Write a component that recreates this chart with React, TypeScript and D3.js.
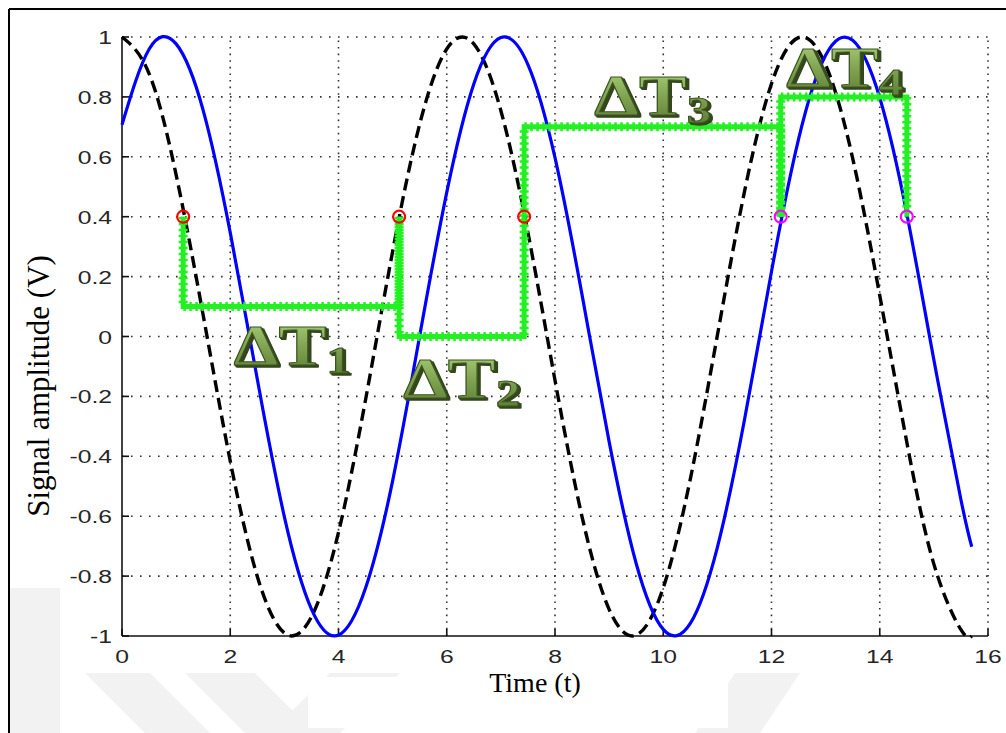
import React from "react";
import * as d3 from "d3";

// Sampled signal values (t in steps of 0.5, last sample at 15.7)
const T_SAMPLES = [0, 0.5, 1, 1.5, 2, 2.5, 3, 3.5, 4, 4.5, 5, 5.5, 6, 6.5, 7, 7.5, 8, 8.5, 9, 9.5, 10, 10.5, 11, 11.5, 12, 12.5, 13, 13.5, 14, 14.5, 15, 15.5, 15.7];
const BLUE_SIGNAL = [0.707, 0.959, 0.977, 0.755, 0.347, -0.143, -0.602, -0.91, -0.997, -0.84, -0.482, 0.002, 0.481, 0.843, 0.998, 0.908, 0.597, 0.139, -0.351, -0.758, -0.978, -0.958, -0.704, -0.279, 0.217, 0.659, 0.939, 0.989, 0.797, 0.41, -0.078, -0.545, -0.702];
const REF_SIGNAL = [1, 0.878, 0.54, 0.071, -0.416, -0.801, -0.99, -0.936, -0.654, -0.211, 0.284, 0.709, 0.96, 0.977, 0.754, 0.347, -0.146, -0.602, -0.911, -0.997, -0.839, -0.476, 0.004, 0.483, 0.844, 0.998, 0.907, 0.595, 0.137, -0.353, -0.76, -0.979, -1.0];

// Threshold crossings (level 0.4) and the interval brackets between them
const CROSS_T = [1.13, 5.12, 7.43, 12.17, 14.5];
const CROSS_LEVEL = 0.4;
const CROSS_COLORS = ["#ff0000", "#ff0000", "#ff0000", "#ff00ff", "#ff00ff"];
const BRACKET_LEVELS = [0.1, 0.0, 0.7, 0.8];

// Interval labels and their anchor points (t, amplitude)
const DELTA_NAMES = ["1", "2", "3", "4"];
const DELTA_T = [2.06, 5.19, 8.72, 12.27];
const DELTA_Y = [-0.095, -0.205, 0.74, 0.833];

const X_TICKS = [0, 2, 4, 6, 8, 10, 12, 14, 16];
const Y_TICKS = [-1, -0.8, -0.6, -0.4, -0.2, 0, 0.2, 0.4, 0.6, 0.8, 1];

const W = 1006;
const H = 733;
const M = { left: 122, right: 988, top: 37, bottom: 636 };

export default function App() {
  const x = d3.scaleLinear().domain([0, 16]).range([M.left, M.right]);
  const y = d3.scaleLinear().domain([-1, 1]).range([M.bottom, M.top]);

  const curve = d3
    .line<[number, number]>()
    .x((d) => x(d[0]))
    .y((d) => y(d[1]))
    .curve(d3.curveNatural);

  const bluePath = curve(T_SAMPLES.map((t, i) => [t, BLUE_SIGNAL[i]]))!;
  const refPath = curve(T_SAMPLES.map((t, i) => [t, REF_SIGNAL[i]]))!;

  const step = d3
    .line<[number, number]>()
    .x((d) => x(d[0]))
    .y((d) => y(d[1]));

  const brackets = BRACKET_LEVELS.map((lvl, i) =>
    step([
      [CROSS_T[i], CROSS_LEVEL],
      [CROSS_T[i], lvl],
      [CROSS_T[i + 1], lvl],
      [CROSS_T[i + 1], CROSS_LEVEL],
    ])!
  );

  const tickFont = "'Liberation Sans', Arial, sans-serif";
  const serif = "'Liberation Serif', 'Times New Roman', serif";

  return (
    <svg
      width={W}
      height={H}
      style={{ position: "absolute", left: 0, top: 0, background: "#fff" }}
      xmlns="http://www.w3.org/2000/svg"
    >
      <defs>
        <linearGradient id="wordart" x1="0" y1="0" x2="0" y2="1">
          <stop offset="0" stopColor="#aed47c" />
          <stop offset="0.45" stopColor="#82a654" />
          <stop offset="1" stopColor="#56752f" />
        </linearGradient>
        {/* solid extrusion behind the lettering */}
        <filter id="extrude" x="-10%" y="-15%" width="130%" height="150%">
          <feOffset in="SourceAlpha" dx="0.8" dy="0.8" result="o1" />
          <feOffset in="SourceAlpha" dx="1.6" dy="1.6" result="o2" />
          <feOffset in="SourceAlpha" dx="2.4" dy="2.4" result="o3" />
          <feMerge result="ext">
            <feMergeNode in="o1" />
            <feMergeNode in="o2" />
            <feMergeNode in="o3" />
          </feMerge>
          <feFlood floodColor="#33461d" />
          <feComposite in2="ext" operator="in" result="shade" />
          <feMerge>
            <feMergeNode in="shade" />
            <feMergeNode in="SourceGraphic" />
          </feMerge>
        </filter>
      </defs>

      {/* faint background emblem */}
      <g fill="#f2f2f2">
        <polygon points="10,588 60,588 60,733 10,733" />
        <polygon points="85,673 150,673 210,733 145,733" />
        <polygon points="185,673 255,673 315,733 245,733" />
        <polygon points="330,673 400,673 340,733 270,733" />
        <polygon points="735,673 800,673 760,733 695,733" />
      </g>
      <rect x={60} y={10} width={W - 60} height={663} fill="#fff" />
      <rect x={308} y={677} width={420} height={51} fill="#fff" />

      {/* outer frame */}
      <line x1={9} y1={9} x2={W} y2={9} stroke="#000" strokeWidth={2} />
      <line x1={9} y1={9} x2={9} y2={H} stroke="#000" strokeWidth={2} />

      {/* dotted grid */}
      <g stroke="#333" strokeWidth={1.6}>
        {X_TICKS.filter((t) => t > 0).map((t) => (
          <line key={"gx" + t} x1={x(t)} x2={x(t)} y1={M.bottom} y2={M.top} strokeDasharray="1.6 5" />
        ))}
        {Y_TICKS.filter((t) => t > -1).map((t) => (
          <line key={"gy" + t} x1={M.left} x2={M.right} y1={y(t)} y2={y(t)} strokeDasharray="1.6 7.4" />
        ))}
      </g>

      {/* axes */}
      <g stroke="#111" strokeWidth={1.6}>
        <line x1={M.left} x2={M.left} y1={M.top} y2={M.bottom} />
        <line x1={M.left} x2={M.right} y1={M.bottom} y2={M.bottom} />
        {X_TICKS.map((t) => (
          <line key={"tx" + t} x1={x(t)} x2={x(t)} y1={M.bottom} y2={M.bottom - 7} />
        ))}
        {Y_TICKS.map((t) => (
          <line key={"ty" + t} x1={M.left} x2={M.left + 7} y1={y(t)} y2={y(t)} />
        ))}
      </g>

      {/* tick labels */}
      <g fontFamily={tickFont} fontSize={19} fill="#262626">
        {X_TICKS.map((t) => (
          <text key={"lx" + t} transform={`translate(${x(t)},${663}) scale(1.3,1)`} textAnchor="middle">
            {String(t)}
          </text>
        ))}
        {Y_TICKS.map((t) => (
          <text
            key={"ly" + t}
            transform={`translate(${112},${y(t) + 7}) scale(1.3,1)`}
            textAnchor="end"
          >
            {String(t)}
          </text>
        ))}
      </g>

      {/* axis titles */}
      <text x={535} y={692} textAnchor="middle" fontFamily={serif} fontSize={28} fill="#000">
        Time (t)
      </text>
      <text
        transform={`translate(${49},${386}) rotate(-90)`}
        textAnchor="middle"
        fontFamily={serif}
        fontSize={31}
        fill="#000"
      >
        Signal amplitude (V)
      </text>

      {/* signals */}
      <path d={refPath} fill="none" stroke="#000" strokeWidth={3.4} strokeDasharray="12 6" />
      <path d={bluePath} fill="none" stroke="#0000ff" strokeWidth={3.2} />

      {/* interval brackets */}
      <g fill="none" stroke="#22f022" strokeLinejoin="miter">
        {brackets.map((p, i) => (
          <g key={"br" + i}>
            <path d={p} strokeWidth={5} />
            <path d={p} strokeWidth={9} strokeDasharray="2.5 3.5" />
          </g>
        ))}
      </g>

      {/* crossing markers */}
      {CROSS_T.map((t, i) => (
        <circle key={"c" + i} cx={x(t)} cy={y(CROSS_LEVEL)} r={6} fill="none" stroke={CROSS_COLORS[i]} strokeWidth={2.2} />
      ))}

      {/* interval labels */}
      {DELTA_NAMES.map((n, i) => (
        <g key={"dl" + i} transform={`translate(${x(DELTA_T[i])},${y(DELTA_Y[i])}) scale(1.28,1)`}>
          <text
            fontFamily={serif}
            fontWeight="bold"
            fontSize={56}
            fill="url(#wordart)"
            stroke="#3d5521"
            strokeWidth={1}
            filter="url(#extrude)"
          >
            {"\u0394T"}
            <tspan fontSize={38} dy={8}>
              {n}
            </tspan>
          </text>
        </g>
      ))}
    </svg>
  );
}
